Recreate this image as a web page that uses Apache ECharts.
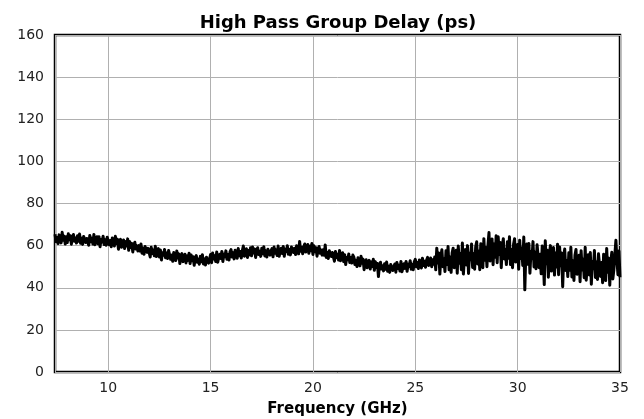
<!DOCTYPE html>
<html>
<head>
<meta charset="utf-8">
<script src="https://cdn.jsdelivr.net/npm/echarts@6/dist/echarts.min.js"></script>
<style>
html,body{margin:0;padding:0;background:#fff;}
#chart{width:644px;height:419px;}
</style>
</head>
<body>
<div id="chart"></div>
<script>
const chartTitle = 'High Pass Group Delay (ps)';
const xAxisName = 'Frequency (GHz)';
const xTickLabels = [10, 15, 20, 25, 30, 35];
const yTickLabels = [0, 20, 40, 60, 80, 100, 120, 140, 160];

const freqGHz = [
7.40,7.45,7.50,7.55,7.60,7.65,7.70,7.75,7.80,7.85,7.90,7.95,
8.00,8.05,8.10,8.15,8.20,8.25,8.30,8.35,8.40,8.45,8.50,8.55,8.60,8.65,8.70,8.75,8.80,8.85,8.90,8.95,
9.00,9.05,9.10,9.15,9.20,9.25,9.30,9.35,9.40,9.45,9.50,9.55,9.60,9.65,9.70,9.75,9.80,9.85,9.90,9.95,
10.00,10.05,10.10,10.15,10.20,10.25,10.30,10.35,10.40,10.45,10.50,10.55,10.60,10.65,10.70,10.75,10.80,10.85,10.90,10.95,
11.00,11.05,11.10,11.15,11.20,11.25,11.30,11.35,11.40,11.45,11.50,11.55,11.60,11.65,11.70,11.75,11.80,11.85,11.90,11.95,
12.00,12.05,12.10,12.15,12.20,12.25,12.30,12.35,12.40,12.45,12.50,12.55,12.60,12.65,12.70,12.75,12.80,12.85,12.90,12.95,
13.00,13.05,13.10,13.15,13.20,13.25,13.30,13.35,13.40,13.45,13.50,13.55,13.60,13.65,13.70,13.75,13.80,13.85,13.90,13.95,
14.00,14.05,14.10,14.15,14.20,14.25,14.30,14.35,14.40,14.45,14.50,14.55,14.60,14.65,14.70,14.75,14.80,14.85,14.90,14.95,
15.00,15.05,15.10,15.15,15.20,15.25,15.30,15.35,15.40,15.45,15.50,15.55,15.60,15.65,15.70,15.75,15.80,15.85,15.90,15.95,
16.00,16.05,16.10,16.15,16.20,16.25,16.30,16.35,16.40,16.45,16.50,16.55,16.60,16.65,16.70,16.75,16.80,16.85,16.90,16.95,
17.00,17.05,17.10,17.15,17.20,17.25,17.30,17.35,17.40,17.45,17.50,17.55,17.60,17.65,17.70,17.75,17.80,17.85,17.90,17.95,
18.00,18.05,18.10,18.15,18.20,18.25,18.30,18.35,18.40,18.45,18.50,18.55,18.60,18.65,18.70,18.75,18.80,18.85,18.90,18.95,
19.00,19.05,19.10,19.15,19.20,19.25,19.30,19.35,19.40,19.45,19.50,19.55,19.60,19.65,19.70,19.75,19.80,19.85,19.90,19.95,
20.00,20.05,20.10,20.15,20.20,20.25,20.30,20.35,20.40,20.45,20.50,20.55,20.60,20.65,20.70,20.75,20.80,20.85,20.90,20.95,
21.00,21.05,21.10,21.15,21.20,21.25,21.30,21.35,21.40,21.45,21.50,21.55,21.60,21.65,21.70,21.75,21.80,21.85,21.90,21.95,
22.00,22.05,22.10,22.15,22.20,22.25,22.30,22.35,22.40,22.45,22.50,22.55,22.60,22.65,22.70,22.75,22.80,22.85,22.90,22.95,
23.00,23.05,23.10,23.15,23.20,23.25,23.30,23.35,23.40,23.45,23.50,23.55,23.60,23.65,23.70,23.75,23.80,23.85,23.90,23.95,
24.00,24.05,24.10,24.15,24.20,24.25,24.30,24.35,24.40,24.45,24.50,24.55,24.60,24.65,24.70,24.75,24.80,24.85,24.90,24.95,
25.00,25.05,25.10,25.15,25.20,25.25,25.30,25.35,25.40,25.45,25.50,25.55,25.60,25.65,25.70,25.75,25.80,25.85,25.90,25.95,
26.00,26.05,26.10,26.15,26.20,26.25,26.30,26.35,26.40,26.45,26.50,26.55,26.60,26.65,26.70,26.75,26.80,26.85,26.90,26.95,
27.00,27.05,27.10,27.15,27.20,27.25,27.30,27.35,27.40,27.45,27.50,27.55,27.60,27.65,27.70,27.75,27.80,27.85,27.90,27.95,
28.00,28.05,28.10,28.15,28.20,28.25,28.30,28.35,28.40,28.45,28.50,28.55,28.60,28.65,28.70,28.75,28.80,28.85,28.90,28.95,
29.00,29.05,29.10,29.15,29.20,29.25,29.30,29.35,29.40,29.45,29.50,29.55,29.60,29.65,29.70,29.75,29.80,29.85,29.90,29.95,
30.00,30.05,30.10,30.15,30.20,30.25,30.30,30.35,30.40,30.45,30.50,30.55,30.60,30.65,30.70,30.75,30.80,30.85,30.90,30.95,
31.00,31.05,31.10,31.15,31.20,31.25,31.30,31.35,31.40,31.45,31.50,31.55,31.60,31.65,31.70,31.75,31.80,31.85,31.90,31.95,
32.00,32.05,32.10,32.15,32.20,32.25,32.30,32.35,32.40,32.45,32.50,32.55,32.60,32.65,32.70,32.75,32.80,32.85,32.90,32.95,
33.00,33.05,33.10,33.15,33.20,33.25,33.30,33.35,33.40,33.45,33.50,33.55,33.60,33.65,33.70,33.75,33.80,33.85,33.90,33.95,
34.00,34.05,34.10,34.15,34.20,34.25,34.30,34.35,34.40,34.45,34.50,34.55,34.60,34.65,34.70,34.75,34.80,34.85,34.90,34.95,
35.00
];

const delayPs = [
65.4,61.9,63.9,61.0,65.1,63.5,61.3,66.3,62.5,64.5,60.8,64.2,
61.5,65.6,62.8,64.7,60.7,64.1,65.3,62.1,63.6,61.2,64.7,62.1,65.5,61.1,63.5,60.6,64.3,65.2,61.5,63.4,
64.1,60.2,64.8,61.9,63.5,60.8,65.3,60.4,62.7,64.2,60.9,64.2,59.5,62.9,61.8,64.5,60.5,62.8,60.2,64.0,
63.9,60.4,62.4,59.5,63.6,62.0,59.8,64.4,61.0,63.0,58.3,61.7,63.0,59.2,60.5,62.7,58.6,61.9,59.8,63.2,
57.8,61.9,59.1,61.0,57.0,60.4,61.6,58.4,59.9,57.5,60.0,57.4,60.8,56.4,58.8,55.9,59.6,60.5,56.8,58.7,
58.5,54.6,59.2,56.3,57.9,55.2,59.7,54.8,57.1,58.6,54.6,57.9,53.2,56.6,55.5,58.2,54.2,56.5,53.9,57.7,
57.0,53.5,55.5,52.6,56.7,55.1,52.9,57.5,54.1,56.1,51.5,54.9,56.2,52.4,53.7,55.9,51.8,55.1,53.0,56.4,
51.5,55.6,52.8,54.7,50.7,54.1,55.3,52.1,53.6,51.2,54.9,52.3,55.7,51.3,53.7,50.8,54.5,55.4,51.7,53.6,
55.8,51.9,56.5,53.6,55.2,52.5,57.0,52.1,54.4,55.9,53.9,57.2,52.5,55.9,54.8,57.5,53.5,55.8,53.2,57.0,
58.1,54.6,56.6,53.7,57.8,56.2,54.0,58.6,55.2,57.2,54.1,57.5,59.8,55.0,56.3,58.5,54.4,57.7,55.6,59.0,
55.2,59.3,56.5,58.4,54.4,57.8,59.0,55.8,57.3,54.9,58.7,56.1,59.5,55.1,57.5,54.6,58.3,59.2,55.5,57.4,
58.6,54.7,59.3,56.4,58.0,55.3,59.8,54.9,57.2,58.7,56.3,59.6,54.9,58.3,57.2,59.9,55.9,58.2,55.6,59.4,
60.2,56.7,58.7,55.8,59.9,58.3,56.1,62.0,57.3,59.3,56.1,59.5,60.8,57.0,58.3,60.5,56.4,59.7,57.6,61.0,
55.8,59.9,57.1,59.0,55.0,58.4,59.6,56.4,57.9,55.5,58.0,55.4,60.3,54.4,56.8,53.9,57.6,58.5,54.8,56.7,
56.5,52.6,57.2,54.3,55.9,53.2,57.7,52.8,55.1,56.6,52.4,55.7,51.0,54.4,53.3,56.0,52.0,54.3,51.7,55.5,
54.5,51.0,53.0,50.1,54.2,52.6,50.4,55.0,51.6,53.6,48.6,52.0,53.3,49.5,50.8,53.0,48.9,52.2,50.1,53.5,
48.3,52.4,49.6,51.5,45.3,50.9,52.1,48.9,50.4,48.0,51.4,48.8,52.2,47.8,50.2,47.3,51.0,51.9,48.2,50.1,
51.3,47.4,52.0,49.1,50.7,48.0,52.5,47.6,49.9,51.4,49.2,52.5,47.8,51.2,50.1,52.8,48.8,51.1,48.5,52.3,
53.5,50.0,52.0,49.1,53.2,51.6,49.4,54.0,50.6,52.6,49.7,53.1,54.4,50.6,51.9,54.1,50.0,53.3,51.2,54.6,
48.5,58.8,51.7,56.5,46.5,55.0,58.0,50.0,53.8,47.7,57.6,51.0,59.6,48.5,54.6,47.3,56.6,58.8,49.5,54.3,
57.8,46.9,59.8,51.6,56.1,48.6,61.2,46.5,53.9,58.1,50.8,60.0,46.8,56.4,53.3,60.8,49.6,56.1,48.8,59.4,
61.8,51.3,57.3,48.6,60.9,56.1,49.5,63.3,53.1,59.1,50.0,60.2,66.2,52.7,56.6,63.2,50.9,60.8,54.5,64.7,
51.9,64.2,55.8,61.5,49.5,59.7,63.3,53.7,58.2,51.0,61.8,54.0,64.2,51.0,58.2,49.5,60.6,63.3,52.2,57.9,
60.5,48.8,62.6,53.9,58.7,50.6,64.1,39.0,56.3,60.8,51.1,61.0,46.9,57.1,53.8,61.9,49.9,56.8,49.0,60.4,
60.7,49.5,55.9,46.6,59.8,54.6,41.5,62.3,51.4,57.8,45.0,55.9,60.0,47.9,52.0,59.1,46.0,56.5,49.8,60.7,
46.2,59.4,50.4,56.5,40.5,54.6,58.4,48.2,53.0,45.3,56.6,48.3,59.2,45.1,52.8,43.5,55.4,58.2,46.4,52.5,
55.4,42.9,57.6,48.4,53.5,44.8,59.2,43.6,50.9,55.7,46.1,56.7,41.7,52.5,49.0,57.7,44.9,52.2,43.9,56.1,
56.9,45.4,52.0,42.4,55.9,50.7,43.4,58.6,47.4,54.0,41.2,52.5,56.8,44.2,48.5,55.8,62.5,53.1,46.2,57.4,
45.0
];

const seriesData = freqGHz.map((f, i) => [f, delayPs[i]]);

const chart = echarts.init(document.getElementById('chart'), null, {renderer: 'canvas'});
const fontFamily = '"DejaVu Sans", sans-serif';

chart.setOption({
  animation: false,
  backgroundColor: '#ffffff',
  title: {
    text: chartTitle,
    left: 333,
    top: 9,
    textAlign: 'center',
    textStyle: {fontFamily, fontWeight: 'bold', fontSize: 18, color: '#000'}
  },
  grid: {
    left: 55, right: 24, top: 35, bottom: 47,
    outerBoundsMode: 'none',
    containLabel: false,
    show: true, borderColor: '#000', borderWidth: 2.5, backgroundColor: 'transparent'
  },
  xAxis: {
    type: 'value',
    min: 7.4,
    max: 35,
    name: xAxisName,
    nameLocation: 'middle',
    nameGap: 30,
    nameTextStyle: {fontFamily, fontWeight: 'bold', fontSize: 15, color: '#000'},
    axisLine: {show: false},
    axisTick: {show: false},
    axisLabel: {
      fontFamily, fontSize: 14, color: '#222', margin: 9,
      formatter: v => xTickLabels.includes(Math.round(v * 1000) / 1000) ? String(v) : ''
    },
    splitLine: {show: true, lineStyle: {color: '#b0b0b0', width: 1}}
  },
  yAxis: {
    type: 'value',
    min: yTickLabels[0],
    max: yTickLabels[yTickLabels.length - 1],
    interval: 20,
    axisLine: {show: false},
    axisTick: {show: false},
    axisLabel: {fontFamily, fontSize: 14, color: '#222', margin: 11},
    splitLine: {show: true, lineStyle: {color: '#b0b0b0', width: 1}}
  },
  series: [{
    type: 'line',
    data: seriesData,
    showSymbol: false,
    symbol: 'none',
    sampling: null,
    lineStyle: {color: '#000', width: 3, join: 'round'},
    z: 3
  }]
});
</script>
</body>
</html>
